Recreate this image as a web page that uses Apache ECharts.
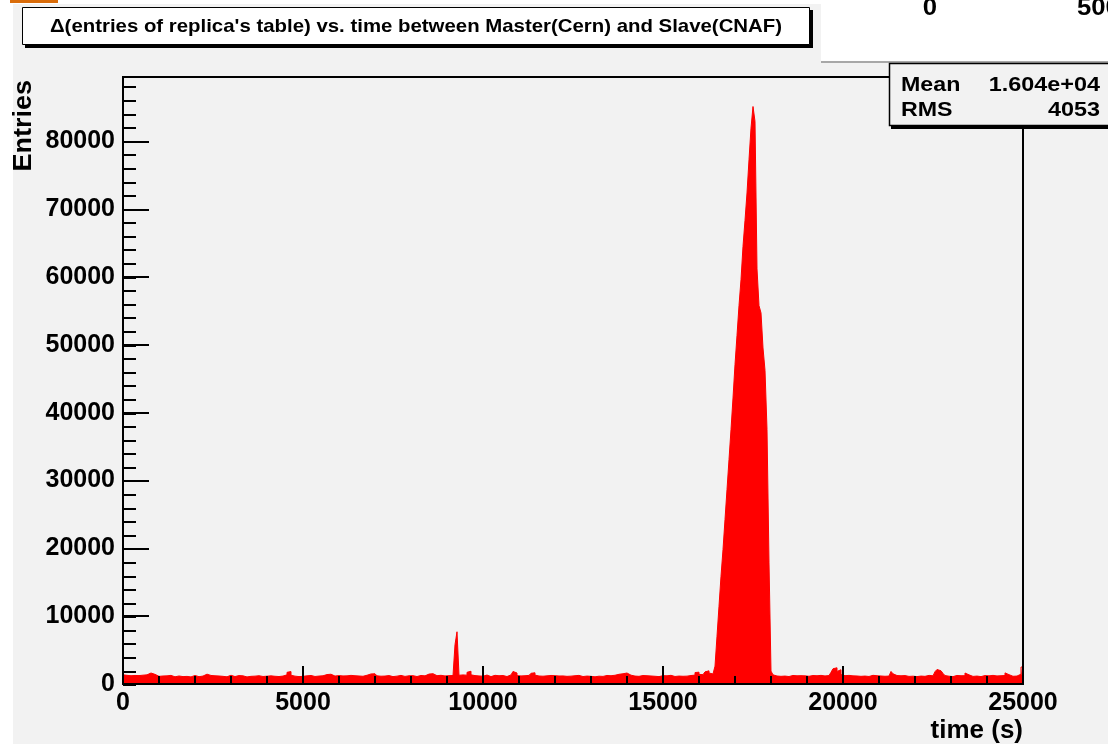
<!DOCTYPE html>
<html><head><meta charset="utf-8">
<script src="https://cdn.jsdelivr.net/npm/echarts@6/dist/echarts.min.js"></script>
<style>html,body{margin:0;padding:0;background:#fff}#c{width:1108px;height:744px}</style>
</head><body><div id="c"></div>
<script>
// ---- data ----
const xRange = [0, 25000];
const yMax = 89500;
const xMajorStep = 5000, xMinorStep = 1000;
const yMajorStep = 10000, yMinorStep = 2000;
const titleText = "\u0394(entries of replica's table) vs. time between Master(Cern) and Slave(CNAF)";
const xName = "time (s)";
const yName = "Entries";
const statLabels = ["Mean", "RMS"];
const statValues = ["1.604e+04", "4053"];
const padTicks = ["0", "500"];
// bin contents (450 equal-width bins over xRange)
const counts = [
1350,1280,1180,1220,1150,1260,1190,1240,1120,1300,
1210,1350,1480,1620,1560,1420,1190,1130,1260,1180,
1090,1200,1150,1270,1130,1060,1210,1180,1140,1090,
1230,1120,1170,1050,1190,1260,1130,1080,1200,1170,
1320,1450,1380,1260,1150,1210,1090,1180,1240,1130,
1170,1060,1210,1290,1150,1100,1180,1240,1120,1200,
1140,1050,1190,1130,1270,1160,1090,1220,1180,1110,
1230,1150,1070,1200,1280,1140,1190,1100,1250,1170,
1210,1350,1720,1830,1290,1160,1220,1090,1180,1130,
1050,1200,1140,1260,1180,1110,1230,1170,1090,1210,
1280,1390,1520,1440,1300,1170,1120,1240,1150,1190,
1090,1200,1130,1270,1160,1220,1100,1180,1250,1140,
1210,1290,1360,1480,1420,1510,1330,1200,1150,1260,
1170,1110,1240,1180,1090,1220,1160,1130,1270,1190,
1120,1080,1210,1150,1230,1190,1100,1170,1260,1140,
1200,1310,1460,1580,1520,1390,1230,1170,1280,1150,
1190,1090,1230,1160,1250,1380,5800,7700,1290,1340,
1450,1300,1720,1880,1350,1240,1380,1190,1260,1150,
1230,1320,1170,1090,1210,1280,1160,1220,1130,1250,
1180,1100,1270,1340,1560,1850,1620,1240,1190,1130,
1220,1160,1270,1390,1580,1650,1310,1180,1240,1150,
1090,1200,1140,1260,1170,1230,1110,1180,1050,1190,
1240,1130,1200,1160,1090,1220,1180,1270,1140,1100,
1210,1170,1250,1130,1190,1060,1230,1150,1200,1120,
1180,1260,1140,1220,1170,1290,1350,1430,1580,1510,
1440,1620,1380,1300,1210,1170,1240,1130,1190,1250,
1160,1220,1100,1180,1260,1140,1200,1090,1170,1230,
1150,1210,1130,1280,1190,1110,1240,1170,1220,1140,
1200,1160,1090,1250,1180,1310,1690,1740,1420,1380,
1560,1790,1940,1620,1480,1650,2630,7050,11470,15890,
19820,24250,28670,33090,37510,42180,47090,51410,55790,59620,
64530,68360,72400,77300,81970,85150,82950,61210,55790,54710,
49550,46250,37540,17860,1900,1350,1180,1250,1130,1210,
1170,1240,1100,1190,1260,1150,1210,1080,1230,1160,
1200,1290,1140,1180,1250,1110,1220,1170,1270,1150,
1190,1130,1240,1480,1720,2250,2390,1850,2100,1400,
1230,1160,1270,1140,1200,1090,1180,1250,1130,1210,
1170,1240,1110,1190,1280,1150,1220,1090,1180,1260,
1140,1210,1170,1230,1850,1500,1250,1130,1210,1160,
1240,1180,1120,1260,1150,1200,1090,1230,1170,1250,
1130,1190,1270,1160,1210,1480,1820,2140,1950,2080,
1560,1240,1150,1210,1090,1180,1260,1140,1220,1170,
1230,1620,1350,1190,1120,1250,1170,1210,1090,1190,
1240,1160,1200,1130,1270,1150,1190,1080,1220,1170,
1250,1640,1380,1180,1140,1230,1170,1290,1450,2500
];

// ---- build: histogram outline as a step line (left bin edges + final right edge) ----
const binW = (xRange[1] - xRange[0]) / counts.length;
const stepData = counts.map((v, i) => [xRange[0] + i * binW, v]);
stepData.push([xRange[1], counts[counts.length - 1]]);

const FONT = '"Liberation Sans", Arial, Helvetica, sans-serif';
const BLACK = '#000';
const RED = '#ff0000';
const gridRect = { left: 123, top: 77, width: 900, height: 608 };
const plainNum = v => String(v);

const chart = echarts.init(document.getElementById('c'), null, { renderer: 'canvas' });
chart.setOption({
  animation: false,
  backgroundColor: '#f2f2f2',
  grid: [
    Object.assign({ show: true, borderColor: BLACK, borderWidth: 2, backgroundColor: 'transparent', containLabel: false }, gridRect),
    Object.assign({ show: false, containLabel: false }, gridRect)
  ],
  xAxis: [
    {
      type: 'value', gridIndex: 0, min: xRange[0], max: xRange[1], interval: xMajorStep,
      position: 'bottom', z: 5,
      axisLine: { show: true, onZero: false, lineStyle: { color: BLACK, width: 2 } },
      axisTick: { show: true, inside: true, length: 18, lineStyle: { color: BLACK, width: 2 } },
      axisLabel: { show: true, margin: 7, color: BLACK, fontFamily: FONT, fontWeight: 'bold', fontSize: 25,
        showMinLabel: true, showMaxLabel: true, formatter: plainNum },
      splitLine: { show: false },
      name: xName, nameLocation: 'end', nameGap: 0,
      nameTextStyle: { color: BLACK, fontFamily: FONT, fontWeight: 'bold', fontSize: 26, align: 'right', verticalAlign: 'top', padding: [34, 0, 0, 0] }
    },
    {
      type: 'value', gridIndex: 1, min: xRange[0], max: xRange[1], interval: xMinorStep,
      position: 'bottom', z: 5,
      axisLine: { show: false, onZero: false },
      axisTick: { show: true, inside: true, length: 9, lineStyle: { color: BLACK, width: 2 } },
      axisLabel: { show: false }, splitLine: { show: false }
    }
  ],
  yAxis: [
    {
      type: 'value', gridIndex: 0, min: 0, max: yMax, interval: yMajorStep,
      position: 'left', z: 5,
      axisLine: { show: true, onZero: false, lineStyle: { color: BLACK, width: 2 } },
      axisTick: { show: true, inside: true, length: 26, lineStyle: { color: BLACK, width: 2 } },
      axisLabel: { show: true, margin: 8, color: BLACK, fontFamily: FONT, fontWeight: 'bold', fontSize: 25,
        showMaxLabel: false,
        formatter: v => (v % yMajorStep === 0 ? String(v) : '') },
      splitLine: { show: false }
    },
    {
      type: 'value', gridIndex: 1, min: 0, max: yMax, interval: yMinorStep,
      position: 'left', z: 5,
      axisLine: { show: false, onZero: false },
      axisTick: { show: true, inside: true, length: 13, lineStyle: { color: BLACK, width: 2 } },
      axisLabel: { show: false }, splitLine: { show: false }
    }
  ],
  series: [{
    type: 'line', xAxisIndex: 0, yAxisIndex: 0, step: 'end', data: stepData,
    showSymbol: false, symbol: 'none', sampling: null, z: 2, clip: true,
    lineStyle: { color: RED, width: 1, join: 'miter' },
    areaStyle: { color: RED, opacity: 1, origin: 'start' },
    itemStyle: { color: RED }
  }],
  graphic: [
    // white margins of the canvas
    { type: 'rect', shape: { x: 0, y: 0, width: 13, height: 744 }, style: { fill: '#ffffff' }, z: 1 },
    { type: 'rect', shape: { x: 0, y: 0, width: 1108, height: 4 }, style: { fill: '#ffffff' }, z: 1 },
    { type: 'rect', shape: { x: 10, y: 0, width: 48, height: 3 }, style: { fill: '#d96c0a' }, z: 2 },
    // upper-right pad fragment
    { type: 'rect', shape: { x: 821, y: 0, width: 290, height: 61 }, style: { fill: '#ffffff' }, z: 10 },
    { type: 'rect', shape: { x: 821, y: 61, width: 290, height: 2 }, style: { fill: '#a8a8a8' }, z: 10 },
    { type: 'text', x: 930, y: 8, z: 11, scaleX: 1.07, style: { text: padTicks[0], fill: BLACK, font: 'bold 24px ' + FONT, align: 'center', verticalAlign: 'middle' } },
    { type: 'text', x: 1077, y: 8, z: 11, scaleX: 1.07, style: { text: padTicks[1], fill: BLACK, font: 'bold 24px ' + FONT, align: 'left', verticalAlign: 'middle' } },
    // title box
    { type: 'rect', shape: { x: 25, y: 10, width: 788, height: 38 }, style: { fill: BLACK }, z: 10 },
    { type: 'rect', shape: { x: 22.5, y: 7.5, width: 787, height: 37 }, style: { fill: '#ffffff', stroke: BLACK, lineWidth: 1 }, z: 11 },
    { type: 'text', x: 416, y: 27, z: 12, scaleX: 1.073, style: { text: titleText, fill: BLACK, font: 'bold 19px ' + FONT, align: 'center', verticalAlign: 'middle' } },
    // stats box
    { type: 'rect', shape: { x: 891, y: 65, width: 230, height: 64 }, style: { fill: BLACK }, z: 10 },
    { type: 'rect', shape: { x: 889.5, y: 63.5, width: 230, height: 62 }, style: { fill: '#f2f2f2', stroke: BLACK, lineWidth: 1.5 }, z: 11 },
    { type: 'text', x: 901, y: 85, z: 12, scaleX: 1.16, style: { text: statLabels[0], fill: BLACK, font: 'bold 20px ' + FONT, align: 'left', verticalAlign: 'middle' } },
    { type: 'text', x: 1100, y: 85, z: 12, scaleX: 1.17, style: { text: statValues[0], fill: BLACK, font: 'bold 20px ' + FONT, align: 'right', verticalAlign: 'middle' } },
    { type: 'text', x: 901, y: 110, z: 12, scaleX: 1.16, style: { text: statLabels[1], fill: BLACK, font: 'bold 20px ' + FONT, align: 'left', verticalAlign: 'middle' } },
    { type: 'text', x: 1100, y: 110, z: 12, scaleX: 1.17, style: { text: statValues[1], fill: BLACK, font: 'bold 20px ' + FONT, align: 'right', verticalAlign: 'middle' } },
    // y-axis title
    { type: 'text', x: 24, y: 80, rotation: Math.PI / 2, scaleX: 1.08, z: 12, style: { text: yName, fill: BLACK, font: 'bold 25px ' + FONT, align: 'right', verticalAlign: 'middle' } }
  ]
});
</script></body></html>
